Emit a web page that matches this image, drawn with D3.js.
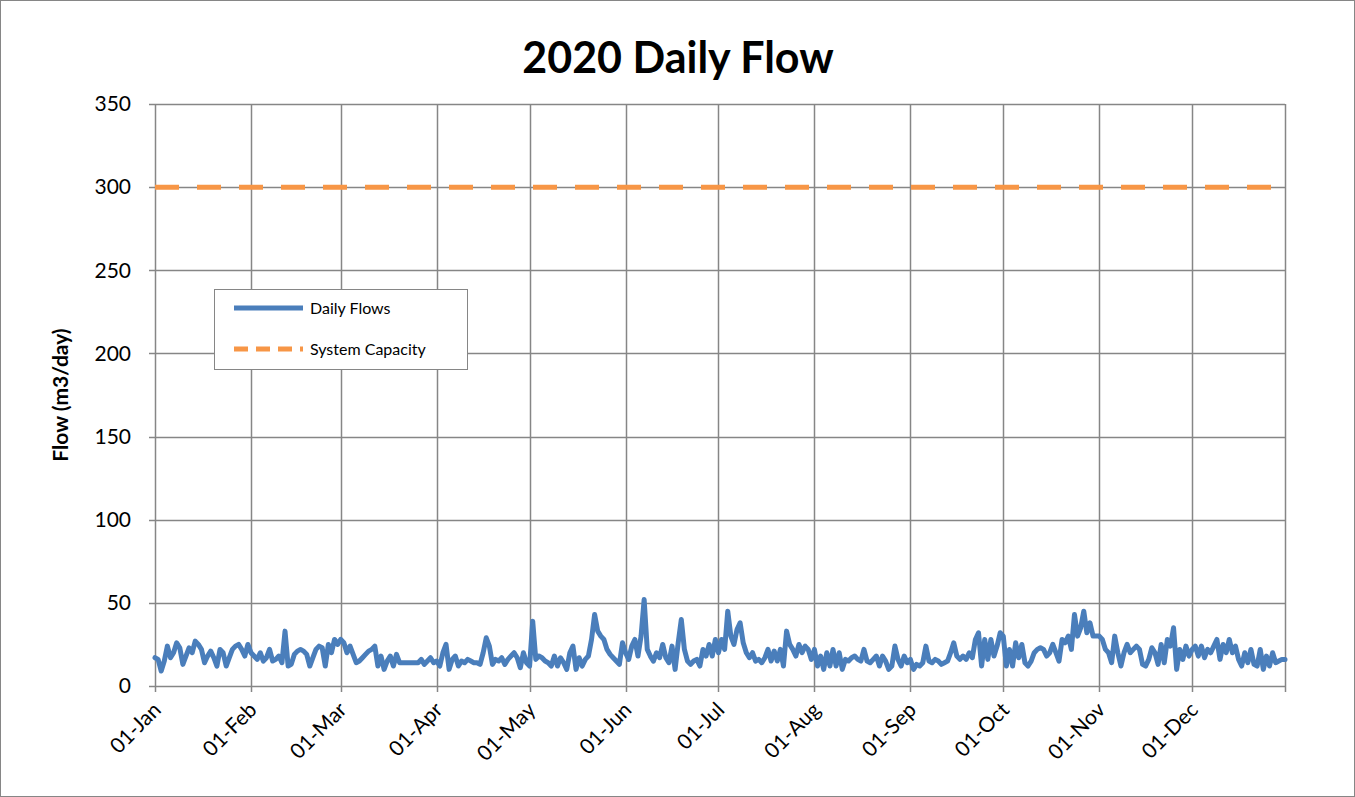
<!DOCTYPE html>
<html>
<head>
<meta charset="utf-8">
<script src="https://cdn.jsdelivr.net/npm/d3@7"></script>
<style>
  body { margin: 0; background: #fff; }
  text { font-family: Lato, "Liberation Sans", sans-serif; }
</style>
</head>
<body>
<div id="chart"></div>
<script>
// Valores diarios (m3/day), un arreglo por mes
const jan = [17,16,9,15,24,17,20,26,23,13,18,23,20,27,25,22,14,18,21,17,12,22,20,12,17,22,24,25,22,18,25];
const feb = [20,18,16,20,15,17,22,15,16,18,14,33,12,13,19,21,22,21,19,12,17,22,24,23,12,25,20,28,25];
const mar = [28,26,20,24,19,14,15,17,19,21,22,24,12,18,10,15,18,12,19,14,14,14,14,14,14,14,16,13,15,17,14];
const apr = [15,12,20,25,10,16,18,12,15,14,16,15,14,14,13,20,29,24,13,16,15,17,13,16,18,20,17,11,20,14];
const may = [12,39,16,18,17,15,14,12,18,12,17,14,10,20,24,10,17,12,16,18,28,43,33,30,28,22,19,17,15,13,26];
const jun = [20,16,24,28,18,30,52,22,18,15,20,17,25,17,14,24,10,26,40,22,15,13,15,16,12,22,18,25,18,28];
const jul = [20,28,22,45,30,25,34,38,26,20,17,20,15,16,14,17,22,15,21,15,22,12,33,25,22,18,25,20,24,22,16];
const aug = [22,12,18,10,20,12,22,12,20,10,16,15,17,18,16,15,22,15,14,16,18,12,18,15,10,12,24,16,12,18,14];
const sep = [16,10,13,12,14,24,15,14,16,15,13,14,15,20,26,18,16,18,16,20,17,28,32,12,28,16,28,18,24,32];
const oct = [30,12,22,12,26,17,25,14,12,15,20,22,23,22,18,20,25,20,15,28,26,30,22,43,30,35,45,32,38,30,30];
const nov = [30,28,22,20,14,30,20,12,20,25,20,22,24,22,13,12,16,23,20,13,25,14,28,24,35,10,22,16,24,18];
const dec = [22,24,18,24,17,22,20,24,28,16,25,20,28,20,24,16,12,20,14,22,13,12,22,10,18,12,20,14,15,16,16];

const months = [jan, feb, mar, apr, may, jun, jul, aug, sep, oct, nov, dec];
const capacity = 300;
const yTicks = [0, 50, 100, 150, 200, 250, 300, 350];
const seriesNames = ["Daily Flows", "System Capacity"];

// Construir la serie diaria
const flows = [];
months.forEach((m, mi) => {
    m.forEach((v, di) => flows.push({ date: new Date(2020, mi, di + 1), value: v }));
});

const width = 1355, height = 797;
const margin = { left: 155, right: 70, top: 104, bottom: 111 };

const svg = d3.select("#chart").append("svg")
    .attr("width", width)
    .attr("height", height);

// Borde del área del gráfico
svg.append("rect")
    .attr("x", 0.5).attr("y", 0.5)
    .attr("width", width - 1).attr("height", height - 1)
    .attr("fill", "white")
    .attr("stroke", "#868686");

const x = d3.scaleTime()
    .domain([new Date(2020, 0, 1), new Date(2020, 11, 31)])
    .range([margin.left, width - margin.right]);

const y = d3.scaleLinear()
    .domain([0, 350])
    .range([height - margin.bottom, margin.top]);

const monthStarts = d3.range(12).map(i => new Date(2020, i, 1));

// Líneas de cuadrícula horizontales
svg.append("g")
    .selectAll("line")
    .data(yTicks)
    .enter().append("line")
    .attr("x1", margin.left)
    .attr("x2", width - margin.right)
    .attr("y1", d => Math.round(y(d)) + 0.5)
    .attr("y2", d => Math.round(y(d)) + 0.5)
    .attr("stroke", "#868686")
    .attr("stroke-width", 1.5);

// Líneas de cuadrícula verticales
svg.append("g")
    .selectAll("line")
    .data(monthStarts.concat([x.domain()[1]]))
    .enter().append("line")
    .attr("x1", d => Math.round(x(d)) + 0.5)
    .attr("x2", d => Math.round(x(d)) + 0.5)
    .attr("y1", y(350))
    .attr("y2", y(0) + 6)
    .attr("stroke", "#868686")
    .attr("stroke-width", 1.5);

// Marcas del eje Y
svg.append("g")
    .selectAll("line")
    .data(yTicks)
    .enter().append("line")
    .attr("x1", margin.left - 6)
    .attr("x2", margin.left)
    .attr("y1", d => Math.round(y(d)) + 0.5)
    .attr("y2", d => Math.round(y(d)) + 0.5)
    .attr("stroke", "#868686")
    .attr("stroke-width", 1.5);

// Etiquetas del eje Y
svg.append("g")
    .selectAll("text")
    .data(yTicks)
    .enter().append("text")
    .attr("x", margin.left - 24)
    .attr("y", d => y(d))
    .attr("dy", "0.35em")
    .attr("text-anchor", "end")
    .attr("font-size", 21)
    .text(d => d);

// Etiquetas del eje X (rotadas)
const fmt = d3.timeFormat("%d-%b");
svg.append("g")
    .selectAll("text")
    .data(monthStarts)
    .enter().append("text")
    .attr("transform", d => `translate(${x(d) + 2},${y(0) + 20}) rotate(-45)`)
    .attr("text-anchor", "end")
    .attr("font-size", 21)
    .attr("dy", "0.35em")
    .text(d => fmt(d));

// Línea de capacidad del sistema
svg.append("line")
    .attr("x1", x.range()[0])
    .attr("x2", x.range()[1])
    .attr("y1", y(capacity))
    .attr("y2", y(capacity))
    .attr("stroke", "#f79646")
    .attr("stroke-width", 5)
    .attr("stroke-dasharray", "24,18");

// Línea de flujos diarios
const line = d3.line()
    .x(d => x(d.date))
    .y(d => y(d.value));

svg.append("path")
    .datum(flows)
    .attr("d", line)
    .attr("fill", "none")
    .attr("stroke", "#4a7ebb")
    .attr("stroke-width", 5)
    .attr("stroke-linejoin", "round")
    .attr("stroke-linecap", "round");

// Título
svg.append("text")
    .attr("x", 678)
    .attr("y", 73)
    .attr("text-anchor", "middle")
    .attr("font-size", 43)
    .attr("font-weight", "bold")
    .text("2020 Daily Flow");

// Título del eje Y
svg.append("text")
    .attr("transform", `translate(68,${(y(0) + y(350)) / 2}) rotate(-90)`)
    .attr("text-anchor", "middle")
    .attr("font-size", 21)
    .attr("font-weight", "bold")
    .text("Flow (m3/day)");

// Leyenda
const legend = svg.append("g");
legend.append("rect")
    .attr("x", 214.5).attr("y", 289.5)
    .attr("width", 253).attr("height", 80)
    .attr("fill", "white")
    .attr("stroke", "#868686");

const legendStyles = [
    { color: "#4a7ebb", dash: null },
    { color: "#f79646", dash: "14,8" }
];
seriesNames.forEach((name, i) => {
    const ly = 308 + i * 41;
    legend.append("line")
        .attr("x1", 234).attr("x2", 303)
        .attr("y1", ly).attr("y2", ly)
        .attr("stroke", legendStyles[i].color)
        .attr("stroke-width", 5)
        .attr("stroke-dasharray", legendStyles[i].dash);
    legend.append("text")
        .attr("x", 310).attr("y", ly)
        .attr("dy", "0.35em")
        .attr("font-size", 16)
        .text(name);
});
</script>
</body>
</html>
